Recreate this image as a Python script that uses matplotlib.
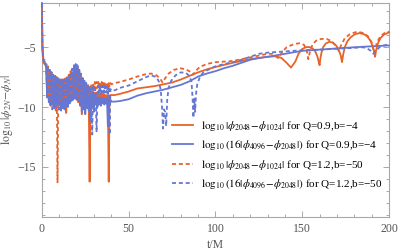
import matplotlib
matplotlib.use('Agg')
import matplotlib.pyplot as plt
from matplotlib.ticker import MultipleLocator

plt.rcParams['font.family'] = ['Liberation Serif', 'DejaVu Serif']
plt.rcParams['mathtext.fontset'] = 'stix'
plt.rcParams['axes.unicode_minus'] = True

ORANGE = '#E8632A'
BLUE = '#6577D3'
FRAME = '#a8a8a8'
TXT = '#555555'

# shared time grids for the early descent and the noisy phase
T_EARLY = [0.0, 0.15, 0.3, 0.6, 1.0, 1.5, 2.0]
T_NOISE = [2.5, 3.0, 3.5, 4.0, 4.5, 5.0, 5.5, 6.0, 6.5, 7.0, 7.5, 8.0, 8.5, 9.0,
           9.5, 10.0, 10.5, 11.0, 11.5, 12.0, 12.5, 13.0, 13.5, 14.0, 14.5, 15.0,
           15.5, 16.0, 16.5, 17.0, 17.5, 18.0, 18.5, 19.0, 19.5, 20.0, 20.5, 21.0,
           21.5, 22.0, 22.5, 23.0, 23.5, 24.0, 24.5, 25.0, 25.5, 26.0, 26.5, 27.0,
           27.5, 28.0, 28.5, 29.0, 29.5, 30.0, 30.5, 31.0, 31.5, 32.0, 32.5, 33.0,
           33.5, 34.0, 34.5, 35.0, 35.5, 36.0, 36.5, 37.0, 37.5, 38.0, 38.5, 39.0,
           39.5, 40.0]

# Q=0.9, b=-4 : log10|phi2048 - phi1024|  (orange solid)
OS_EARLY = [-1.5, -3.6, -5.0, -5.8, -6.2, -6.4, -6.5]
OS_NOISE = [-6.6, -8.8, -6.9, -9.4, -7.1, -9.9, -7.3, -9.5, -7.4, -9.8, -7.6, -10.3,
            -7.7, -9.6, -7.8, -9.9, -7.9, -9.5, -7.9, -9.8, -7.9, -9.6, -7.9, -10.5,
            -7.8, -9.7, -7.7, -9.5, -7.5, -9.4, -7.2, -9.3, -7.0, -9.2, -6.9, -9.4,
            -7.0, -9.6, -7.2, -9.9, -7.5, -10.6, -7.8, -9.8, -8.0, -10.0, -8.2, -9.7,
            -8.4, -9.6, -16.25, -9.0, -8.7, -9.5, -8.8, -9.4, -8.8, -9.5, -8.8, -9.3,
            -8.9, -9.4, -8.9, -9.3, -8.9, -9.3, -8.9, -9.2, -9.0, -9.3, -9.0, -9.2,
            -16.25, -9.1, -9.0, -9.0]
OS_T_LATE = [42, 45, 50, 55, 60, 65, 70, 75, 80, 85, 90, 95, 100, 110, 120, 130,
             135, 138, 141, 143.5, 146, 148, 150, 152, 154, 156, 157.5, 158.8,
             159.6, 160, 160.4, 161, 162, 163.5, 165.5, 167.5, 169.5, 171, 172.2,
             172.9, 173.6, 174.5, 176, 178, 180.5, 183, 185.5, 187.5, 189.5, 190.8,
             191.6, 192, 192.5, 193.5, 195, 197, 200]
OS_LATE = [-9.0, -8.9, -8.7, -8.45, -8.35, -8.25, -8.1, -7.95, -7.7, -7.4, -7.1,
           -6.85, -6.65, -6.3, -6.0, -5.8, -5.75, -5.9, -6.3, -6.7, -6.2, -5.5,
           -5.15, -5.0, -4.98, -5.1, -5.35, -5.8, -6.3, -6.5, -6.0, -5.5, -5.0,
           -4.7, -4.55, -4.6, -4.85, -5.2, -5.7, -6.25, -5.6, -5.0, -4.5, -4.15,
           -3.9, -3.82, -3.9, -4.1, -4.5, -5.0, -5.5, -5.8, -5.3, -4.7, -4.25,
           -3.95, -3.75]

# Q=0.9, b=-4 : log10(16|phi4096 - phi2048|)  (blue solid)
BS_EARLY = [-1.3, -3.4, -4.9, -5.6, -6.1, -6.3, -6.4]
BS_NOISE = [-6.4, -9.2, -6.7, -9.6, -6.9, -9.8, -7.1, -9.7, -7.3, -10.1, -7.4, -9.8,
            -7.5, -10.0, -7.6, -9.7, -7.7, -10.3, -7.8, -9.9, -7.8, -10.2, -7.8, -9.8,
            -7.7, -10.0, -7.6, -9.7, -7.4, -9.5, -7.1, -9.4, -6.8, -9.3, -6.6, -9.2,
            -6.6, -9.4, -6.9, -9.8, -7.3, -10.4, -7.6, -10.0, -7.9, -10.6, -8.0, -10.0,
            -8.2, -10.3, -8.4, -11.2, -9.0, -10.0, -9.1, -10.4, -9.2, -9.8, -9.2, -10.0,
            -9.2, -9.8, -9.2, -9.9, -9.2, -9.7, -9.3, -9.8, -9.3, -9.7, -9.3, -11.6,
            -9.4, -9.7, -9.4, -9.55]
BS_T_LATE = [42, 45, 50, 55, 60, 65, 70, 75, 80, 85, 90, 95, 100, 105, 110, 115,
             120, 125, 130, 140, 150, 160, 170, 180, 190, 200]
BS_LATE = [-9.55, -9.5, -9.35, -9.05, -8.85, -8.7, -8.55, -8.35, -8.15, -7.85,
           -7.45, -7.2, -7.0, -6.75, -6.55, -6.3, -6.05, -5.9, -5.8, -5.55, -5.3,
           -5.2, -5.1, -5.0, -4.92, -4.85]

# Q=1.2, b=-50 : log10|phi2048 - phi1024|  (orange dashed)
OD_EARLY = [-1.6, -3.8, -5.2, -6.0, -6.3, -6.3, -6.2]
OD_NOISE = [-6.2, -8.6, -6.6, -9.0, -6.9, -9.4, -7.1, -9.6, -7.3, -9.2, -7.4, -9.7,
            -7.5, -16.3, -7.6, -9.6, -7.7, -9.4, -7.7, -9.7, -7.7, -9.3, -7.6, -9.6,
            -7.5, -9.4, -7.3, -9.1, -7.0, -9.0, -6.8, -8.9, -6.6, -8.8, -6.5, -9.0,
            -6.7, -9.1, -7.0, -9.3, -7.3, -9.5, -7.6, -9.4, -7.8, -9.6, -8.0, -9.3,
            -8.1, -9.2, -8.2, -9.0, -8.1, -8.7, -8.0, -8.6, -7.9, -8.5, -7.9, -8.4,
            -7.9, -8.4, -7.9, -8.3, -7.9, -8.3, -7.9, -8.2, -7.9, -8.3, -8.0, -8.3,
            -8.0, -8.3, -8.0, -8.1]
OD_T_LATE = [42, 45, 50, 55, 60, 63, 66, 68, 69.5, 71, 73, 76, 79.5, 83, 85.5, 87,
             88.5, 91, 95, 100, 105, 110, 115, 120, 125, 130, 133, 136, 138.5, 141,
             145, 148.7, 151, 152.5, 153.5, 154.5, 156, 158, 161, 164, 167, 169.5,
             171, 172.5, 174.5, 177.5, 181.5, 185, 188, 190, 191.5, 193, 195, 197.5,
             200]
OD_LATE = [-8.0, -7.9, -7.7, -7.45, -7.25, -7.2, -7.35, -7.6, -7.95, -7.6, -7.2,
           -6.9, -6.75, -6.85, -7.05, -7.3, -7.0, -6.65, -6.4, -6.25, -6.2, -6.15,
           -6.0, -5.85, -5.7, -5.55, -5.55, -5.9, -5.4, -5.0, -4.75, -4.65, -4.8,
           -5.2, -6.0, -5.3, -4.75, -4.45, -4.3, -4.3, -4.5, -4.9, -5.3, -4.8,
           -4.25, -3.9, -3.7, -3.8, -4.1, -4.6, -5.5, -4.6, -4.1, -3.8, -3.7]

# Q=1.2, b=-50 : log10(16|phi4096 - phi2048|)  (blue dashed)
BD_EARLY = [-1.4, -3.5, -5.0, -5.7, -6.2, -6.3, -6.3]
BD_NOISE = [-6.3, -9.0, -6.6, -9.5, -6.9, -9.8, -7.1, -10.2, -7.2, -9.7, -7.4, -10.0,
            -7.5, -9.8, -7.6, -10.2, -7.7, -9.8, -7.7, -10.1, -7.7, -9.7, -7.7, -10.0,
            -7.6, -9.8, -7.4, -9.6, -7.1, -9.4, -6.8, -9.3, -6.5, -9.2, -6.4, -9.3,
            -6.5, -9.5, -6.8, -9.7, -7.2, -10.0, -7.5, -10.2, -7.8, -9.9, -8.0, -10.1,
            -8.2, -9.8, -8.3, -10.5, -8.4, -12.3, -8.3, -9.3, -8.2, -9.1, -12.1, -9.0,
            -8.2, -8.9, -8.2, -8.9, -8.2, -8.8, -8.2, -8.8, -8.3, -8.8, -8.3, -8.9,
            -8.4, -12.3, -8.5, -8.6]
BD_T_LATE = [42, 45, 50, 55, 60, 63, 66, 67.5, 68.5, 69.2, 69.8, 70.4, 71.0, 71.6,
             72.2, 73, 74.5, 77, 80, 83, 85, 86.2, 86.8, 87.3, 87.8, 88.3, 88.8,
             89.5, 91, 93, 97, 100, 105, 110, 115, 120, 125, 130, 140, 150, 160,
             170, 180, 185, 187.5, 189.5, 191, 192.5, 194.5, 197, 200]
BD_LATE = [-8.6, -8.4, -8.2, -7.85, -7.5, -7.35, -7.5, -7.9, -8.6, -10.0, -11.8,
           -10.2, -10.4, -11.6, -9.4, -8.4, -7.8, -7.35, -7.1, -7.15, -7.4, -7.9,
           -9.2, -10.9, -9.3, -10.4, -8.9, -8.1, -7.5, -7.1, -6.8, -6.6, -6.4,
           -6.25, -6.05, -5.8, -5.55, -5.45, -5.35, -5.25, -5.2, -5.12, -5.05,
           -5.0, -5.1, -5.3, -5.55, -5.3, -5.0, -4.85, -4.75]

LABELS = [
    r'$\log_{10}|\phi_{2048}\!-\!\phi_{1024}|$ for Q=0.9,b=−4',
    r'$\log_{10}(16|\phi_{4096}\!-\!\phi_{2048}|)$ for Q=0.9,b=−4',
    r'$\log_{10}|\phi_{2048}\!-\!\phi_{1024}|$ for Q=1.2,b=−50',
    r'$\log_{10}(16|\phi_{4096}\!-\!\phi_{2048}|)$ for Q=1.2,b=−50',
]


def series(early, noise, t_late, late):
    return T_EARLY + T_NOISE + t_late, early + noise + late


fig = plt.figure(figsize=(3.99, 2.52), dpi=100)
ax = fig.add_axes([0.105, 0.139, 0.87, 0.849])

lw = 1.3
dash = (0, (2.2, 1.6))
styles = [(ORANGE, '-'), (BLUE, '-'), (ORANGE, dash), (BLUE, dash)]
data = [(OS_EARLY, OS_NOISE, OS_T_LATE, OS_LATE),
        (BS_EARLY, BS_NOISE, BS_T_LATE, BS_LATE),
        (OD_EARLY, OD_NOISE, OD_T_LATE, OD_LATE),
        (BD_EARLY, BD_NOISE, BD_T_LATE, BD_LATE)]
for (col, ls), d, lab in zip(styles, data, LABELS):
    t, y = series(*d)
    ax.plot(t, y, color=col, lw=lw, ls=ls, label=lab, clip_on=False, zorder=3)

ax.set_xlim(0, 200)
ax.set_ylim(-19.2, -1.3)
ax.xaxis.set_major_locator(MultipleLocator(50))
ax.xaxis.set_minor_locator(MultipleLocator(10))
ax.yaxis.set_major_locator(MultipleLocator(5))
ax.yaxis.set_minor_locator(MultipleLocator(1))
ax.tick_params(which='both', direction='in', top=True, right=True,
               color=FRAME, labelcolor=TXT, labelsize=8.5, width=0.7)
ax.tick_params(which='major', length=4, pad=4)
ax.tick_params(which='minor', length=2)
for s in ax.spines.values():
    s.set_color(FRAME)
    s.set_linewidth(0.8)
    s.set_zorder(1)

ax.set_xlabel('t/M', color=TXT, fontsize=8.5, labelpad=3)
ax.set_ylabel(r'$\log_{10}|\phi_{2N}\!-\!\phi_N|$', color=TXT, fontsize=8.5,
              labelpad=2)

ax.legend(loc='lower right', bbox_to_anchor=(1.0, 0.09), frameon=False,
          fontsize=8, handlelength=1.9, handletextpad=0.7,
          labelspacing=0.5, borderaxespad=0.2)

fig.savefig('out.png', dpi=100)
